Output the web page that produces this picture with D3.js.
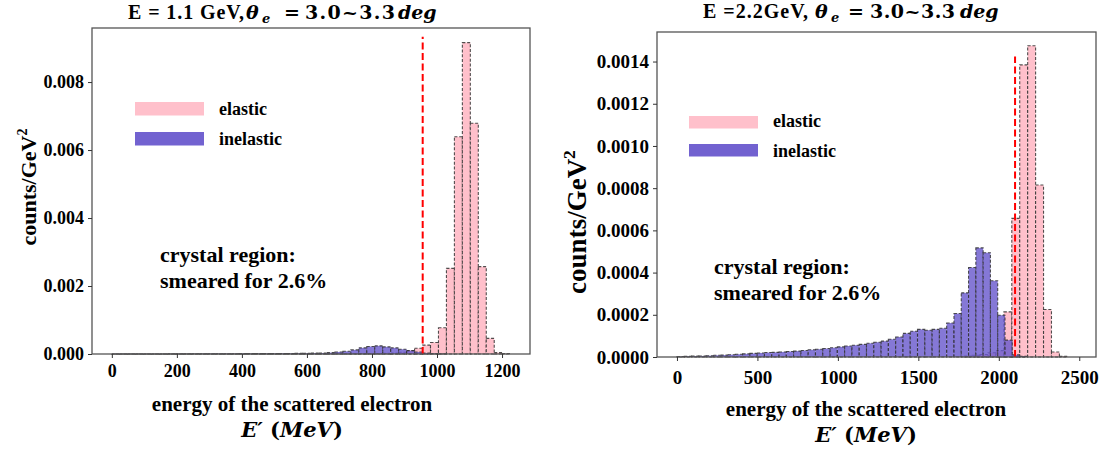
<!DOCTYPE html>
<html><head><meta charset="utf-8">
<script src="https://cdn.jsdelivr.net/npm/d3@7"></script>
<style>
body{margin:0;background:#fff}
svg{display:block}
text{font-family:"Liberation Serif","Times New Roman",serif;font-weight:bold;fill:#000}
.math{font-family:"DejaVu Serif",serif}
</style></head>
<body><svg id="c" width="1099" height="453"></svg>
<script>
// ---------------- DATA ----------------
// Left panel (E = 1.1 GeV) – histogram bins in MeV
const leftElasticStart = 0, leftElasticWidth = 24.5;
const leftElasticCounts = [
 0.000001,0.000001,0.000001,0.000001,0.000001,0.000001,0.000001,0.000001,0.000002,0.000002,
 0.000002,0.000002,0.000002,0.000002,0.000002,0.000002,0.000002,0.000002,0.000002,0.000002,
 0.000002,0.000003,0.000003,0.000003,0.000004,0.000004,0.000005,0.000005,0.000006,0.000006,
 0.000008,0.00001,0.000012,0.000015,0.00002,0.00003,0.00005,0.0001,0.00017,0.00026,
 0.00034,0.00077,0.00252,0.00639,0.00916,0.00679,0.00257,0.00046,0.00004,0.00001];
const leftInelasticStart = 0, leftInelasticWidth = 24.5;
const leftInelasticCounts = [
 0.000002,0.000002,0.000002,0.000002,0.000002,0.000002,0.000002,0.000003,0.000005,0.000005,
 0.000006,0.000006,0.000007,0.000007,0.000008,0.000008,0.00001,0.00001,0.00001,0.000011,
 0.000012,0.000015,0.000016,0.000018,0.00002,0.000025,0.00003,0.00004,0.00006,0.00008,
 0.00012,0.00018,0.00022,0.00024,0.00021,0.00018,0.00014,0.0001,0.00006,0.00003,
 0.00001,0.000003];
const leftCutEnergy = 956, leftCutTop = 0.00933;
const leftXTicks = [0,200,400,600,800,1000,1200];
const leftYTicks = [0,0.002,0.004,0.006,0.008];

// Right panel (E = 2.2 GeV)
const rightInelasticStart = 0, rightInelasticWidth = 45.3;
const rightInelasticCounts = [
 0.000002,0.000003,0.000004,0.000005,0.000006,0.000008,0.000009,0.000011,0.000013,0.000015,
 0.000017,0.000019,0.000021,0.000022,0.000024,0.000026,0.000028,0.000031,0.000034,0.000037,
 0.00004,0.000044,0.000048,0.000052,0.000056,0.00006,0.000065,0.00007,0.000075,0.000084,
 0.000095,0.000112,0.000122,0.000131,0.000127,0.000131,0.000136,0.000161,0.000206,0.000304,
 0.000424,0.000517,0.000494,0.000361,0.000198,0.00008,0.00001,0.000003];
const rightElasticStart = 1785, rightElasticWidth = 49.3;
const rightElasticCounts = [0.000004,0.000008,0.000012,0.00002,0.00003,0.000214,0.000657,
 0.001384,0.001475,0.000815,0.000225,0.000024,0.000003];
const rightCutEnergy = 2101, rightCutTop = 0.001424;
const rightXTicks = [0,500,1000,1500,2000,2500];
const rightYTicks = [0,0.0002,0.0004,0.0006,0.0008,0.0010,0.0012,0.0014];

const seriesNames = ["elastic","inelastic"];
const seriesColors = {elastic:"#ffc0cb", inelastic:"#6a5acd"};

// ---------------- DRAW ----------------
const svg = d3.select("#c");

function bins(start, width, counts){
  return counts.map((v,i)=>({x0:start+i*width, x1:start+(i+1)*width, v}));
}

function panel(cfg){
  const g = svg.append("g");
  const x = d3.scaleLinear().domain(cfg.xDomain).range([cfg.left, cfg.right]);
  const y = d3.scaleLinear().domain(cfg.yDomain).range([cfg.bottom, cfg.top]);

  const drawBars = (data, name, op) => {
    g.append("g").selectAll("rect").data(data.filter(d=>d.v>0)).join("rect")
      .attr("x", d=>x(d.x0)).attr("width", d=>x(d.x1)-x(d.x0))
      .attr("y", d=>y(d.v)).attr("height", d=>y(0)-y(d.v))
      .attr("fill", seriesColors[name]).attr("fill-opacity", op)
      .attr("stroke","#333").attr("stroke-opacity",0.85)
      .attr("stroke-width",1.1).attr("stroke-dasharray","3,1.8");
  };
  drawBars(bins(cfg.elStart, cfg.elWidth, cfg.elCounts), "elastic", 1);
  drawBars(bins(cfg.inStart, cfg.inWidth, cfg.inCounts), "inelastic", 0.82);

  // cut line
  g.append("line").attr("x1", x(cfg.cut)).attr("x2", x(cfg.cut))
    .attr("y1", y(0)).attr("y2", y(cfg.cutTop))
    .attr("stroke","#ff0000").attr("stroke-width",2).attr("stroke-dasharray","7,3.5");

  // frame
  g.append("rect").attr("x",cfg.left).attr("y",cfg.top)
    .attr("width",cfg.right-cfg.left).attr("height",cfg.bottom-cfg.top)
    .attr("fill","none").attr("stroke","#555").attr("stroke-width",1.3);

  // axes
  const xa = g.append("g").attr("transform",`translate(0,${cfg.bottom})`)
    .call(d3.axisBottom(x).tickValues(cfg.xTicks).tickFormat(d3.format("d")).tickSize(4).tickPadding(cfg.xPad));
  const ya = g.append("g").attr("transform",`translate(${cfg.left},0)`)
    .call(d3.axisLeft(y).tickValues(cfg.yTicks).tickFormat(d3.format(cfg.yFmt)).tickSize(4).tickPadding(4));
  [xa,ya].forEach(a=>{
    a.select(".domain").remove();
    a.selectAll(".tick line").attr("stroke","#333");
    a.selectAll("text").attr("font-size",cfg.tickFont).attr("font-family",'"Liberation Serif",serif')
      .attr("font-weight","bold").attr("fill","#000");
  });

  // legend
  seriesNames.forEach((n,i)=>{
    g.append("rect").attr("x",cfg.legX).attr("y",cfg.legY[i]).attr("width",69).attr("height",cfg.legH)
      .attr("fill",seriesColors[n]).attr("fill-opacity", n==="inelastic"?0.95:1);
    g.append("text").attr("x",cfg.legX+84).attr("y",cfg.legTextY[i]).attr("font-size",18).text(n);
  });

  // annotation
  g.append("text").attr("x",cfg.annX).attr("y",cfg.annY).attr("font-size",22).text("crystal region:");
  g.append("text").attr("x",cfg.annX).attr("y",cfg.annY+26).attr("font-size",22).text("smeared for 2.6%");

  // y label
  const yl = g.append("text").attr("transform",`translate(${cfg.ylX},${cfg.ylY}) rotate(-90)`)
    .attr("text-anchor","middle").attr("font-size",cfg.ylFont);
  yl.append("tspan").text("counts/GeV");
  yl.append("tspan").attr("dy",-cfg.ylFont*0.4).attr("font-size",cfg.ylFont*0.65).text("2");

  // x label
  g.append("text").attr("x",cfg.xlX).attr("y",cfg.xlY).attr("text-anchor","middle").attr("font-size",21)
    .text("energy of the scattered electron");
  const xl2 = g.append("text").attr("x",cfg.xlX).attr("y",cfg.xlY+26).attr("text-anchor","middle")
    .attr("font-size",21).attr("class","math");
  xl2.append("tspan").attr("font-style","italic").text("E′");
  xl2.append("tspan").text(" (");
  xl2.append("tspan").attr("font-style","italic").text("MeV");
  xl2.append("tspan").text(")");

  // title
  const t = cfg.title;
  const tt = g.append("g");
  tt.append("text").attr("x",t.x0).attr("y",t.base).attr("font-size",20).attr("textLength",t.w0).attr("lengthAdjust","spacing").text(t.s0);
  tt.append("text").attr("class","math").attr("x",t.xTheta).attr("y",t.base).attr("font-size",19).attr("font-style","italic").text("θ");
  tt.append("text").attr("class","math").attr("x",t.xTheta+16).attr("y",t.base+4).attr("font-size",13).attr("font-style","italic").text("e");
  tt.append("text").attr("class","math").attr("x",t.xEq).attr("y",t.base).attr("font-size",19).text("=");
  tt.append("text").attr("class","math").attr("x",t.xNum).attr("y",t.base).attr("font-size",19).attr("textLength",t.wNum).attr("lengthAdjust","spacing").text("3.0~3.3");
  tt.append("text").attr("class","math").attr("x",t.xDeg).attr("y",t.base).attr("font-size",19).attr("font-style","italic").text("deg");
}

panel({
  left:92, right:530, top:28, bottom:354,
  xDomain:[-61,1286], yDomain:[0,0.00959],
  elStart:leftElasticStart, elWidth:leftElasticWidth, elCounts:leftElasticCounts,
  inStart:leftInelasticStart, inWidth:leftInelasticWidth, inCounts:leftInelasticCounts,
  cut:leftCutEnergy, cutTop:leftCutTop,
  xTicks:leftXTicks, yTicks:leftYTicks, yFmt:".3f", tickFont:18, xPad:6,
  legX:135, legY:[102,132], legH:13.5, legTextY:[115,145],
  annX:160, annY:262,
  ylX:36, ylY:187, ylFont:22,
  xlX:292, xlY:411,
  title:{x0:128,base:19,w0:116,s0:"E = 1.1 GeV,",xTheta:246,xEq:284,xNum:305,wNum:90,xDeg:398}
});

panel({
  left:657, right:1096, top:32, bottom:357,
  xDomain:[-124,2604], yDomain:[0,0.00154],
  elStart:rightElasticStart, elWidth:rightElasticWidth, elCounts:rightElasticCounts,
  inStart:rightInelasticStart, inWidth:rightInelasticWidth, inCounts:rightInelasticCounts,
  cut:rightCutEnergy, cutTop:rightCutTop,
  xTicks:rightXTicks, yTicks:rightYTicks, yFmt:".4f", tickFont:19, xPad:10,
  legX:689, legY:[116,144], legH:12.5, legTextY:[127,157],
  annX:714, annY:274,
  ylX:586, ylY:222, ylFont:27,
  xlX:866, xlY:416,
  title:{x0:703,base:18,w0:105,s0:"E =2.2GeV,",xTheta:815,xEq:848,xNum:870,wNum:85,xDeg:960}
});
</script>
</body></html>
